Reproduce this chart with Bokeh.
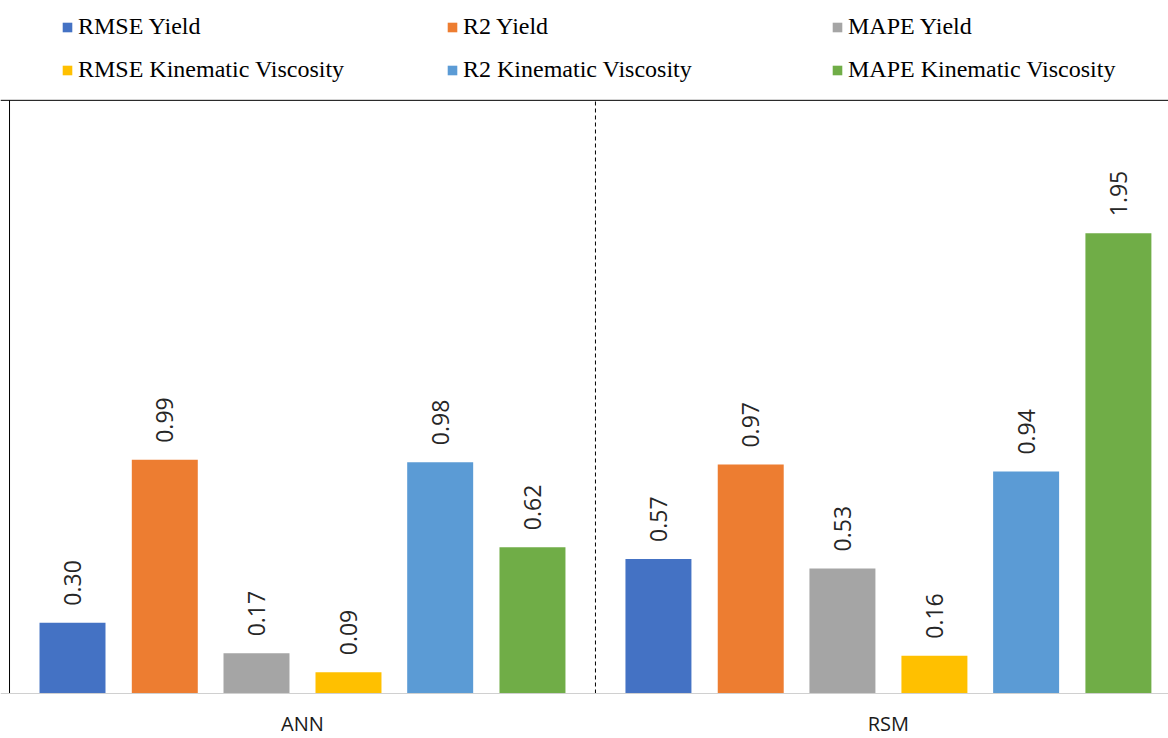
from bokeh.plotting import figure
from bokeh.models import ColumnDataSource, Legend, LegendItem, Span, Range1d
from bokeh.core.properties import value
from bokeh.embed import file_html
from bokeh.resources import INLINE

# ---- data ----
methods = ["ANN", "RSM"]
series = ["RMSE Yield", "R2 Yield", "MAPE Yield",
          "RMSE Kinematic Viscosity", "R2 Kinematic Viscosity", "MAPE Kinematic Viscosity"]
rmse_yield = [0.30, 0.57]
r2_yield = [0.99, 0.97]
mape_yield = [0.17, 0.53]
rmse_kv = [0.09, 0.16]
r2_kv = [0.98, 0.94]
mape_kv = [0.62, 1.95]
values = [rmse_yield, r2_yield, mape_yield, rmse_kv, r2_kv, mape_kv]
colors = ["#4472C4", "#ED7D31", "#A5A5A5", "#FFC000", "#5B9BD5", "#70AD47"]

offsets = [-0.3925, -0.235, -0.0785, 0.0785, 0.235, 0.3925]
bar_w = 0.1126
box_top = 2.513      # top of the plot box
y_max = 2.936        # room above the box for the legend
y_min = -0.1907      # room below the baseline for category labels
x_min = -0.0154

p = figure(width=1168, height=738, output_backend="svg", toolbar_location=None,
           x_range=Range1d(x_min, 1.978), y_range=Range1d(y_min, y_max),
           x_axis_location=None, y_axis_location=None,
           min_border_left=0, min_border_right=0, min_border_top=0, min_border_bottom=0)
p.xgrid.visible = False
p.ygrid.visible = False
p.outline_line_color = None
p.background_fill_color = "white"
p.border_fill_color = "white"

renderers = []
for i, (name, vals, col) in enumerate(zip(series, values, colors)):
    xs = [j + 0.5 + offsets[i] for j in range(len(methods))]
    src = ColumnDataSource(dict(x=xs, top=vals, lab=["%.2f" % v for v in vals]))
    r = p.vbar(x="x", top="top", width=bar_w, source=src, fill_color=col, line_color=None)
    renderers.append(r)
    p.text(x="x", y="top", text="lab", source=src, angle=1.5708, y_offset=-17,
           text_align="left", text_baseline="middle", text_font=value("Open Sans"),
           text_font_size="23px", text_color="#262626")

# box, baseline and group separator
p.add_layout(Span(location=box_top, dimension="width", line_color="black", line_width=1))
p.add_layout(Span(location=0, dimension="width", line_color="#D0D0D0", line_width=1))
p.segment(x0=[0], y0=[0], x1=[0], y1=[box_top], line_color="black", line_width=1)
p.segment(x0=[1.0], y0=[0], x1=[1.0], y1=[box_top], line_color="black",
          line_dash="4 3", line_width=1)

# category labels
cat_src = ColumnDataSource(dict(x=[j + 0.5 for j in range(len(methods))],
                                y=[0] * len(methods), t=methods))
p.text(x="x", y="y", text="t", source=cat_src, y_offset=30, text_align="center",
       text_baseline="middle", text_font=value("Open Sans"), text_font_size="20px",
       text_color="#1a1a1a")

items = [LegendItem(label=s, renderers=[r]) for s, r in zip(series, renderers)]
legend = Legend(items=items, ncols=3, orientation="horizontal",
                location=(61, 655), glyph_width=12, glyph_height=12, label_standoff=5,
                label_width=352, spacing=16, padding=0, margin=0,
                label_text_font="Liberation Serif", label_text_font_size="24px",
                label_text_color="black", border_line_color=None,
                background_fill_alpha=0)
p.add_layout(legend, "center")

open("out.html", "w").write(file_html(p, INLINE))
